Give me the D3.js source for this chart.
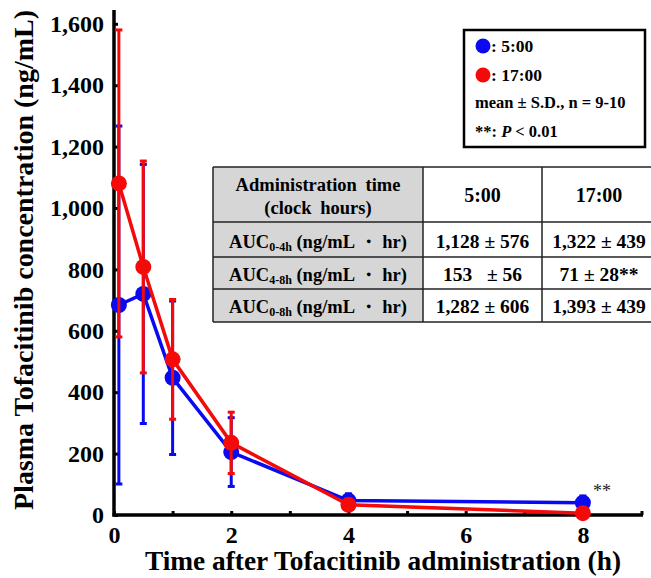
<!DOCTYPE html>
<html>
<head>
<meta charset="utf-8">
<script src="https://cdn.jsdelivr.net/npm/d3@7"></script>
<style>
  body { margin: 0; background: #fff; }
  svg { display: block; font-family: "Liberation Serif", "Times New Roman", serif; font-weight: bold; }
</style>
</head>
<body>
<svg width="651" height="578"></svg>
<script>
// sampling times (h)
var times = [0.083, 0.5, 1, 2, 4, 8];
// 5:00 dosing
var mean5 = [684, 720, 447, 205, 47, 40];
var sd5   = [583, 422, 250, 112, 22, 22];
// 17:00 dosing
var mean17 = [1080, 808, 507, 235, 33, 6];
var sd17   = [500, 345, 195, 100, 10, 3];

var yTicks = [0, 200, 400, 600, 800, 1000, 1200, 1400, 1600];
var xTicks = [0, 1, 2, 3, 4, 5, 6, 7, 8, 9];

var tableHead = ["Administration time", "(clock hours)"];
var tableCols = ["5:00", "17:00"];
var aucSubs = ["0-4h", "4-8h", "0-8h"];
var auc5  = ["1,128 \u00b1 576", "153\u00a0\u00a0 \u00b1 56", "1,282 \u00b1 606"];
var auc17 = ["1,322 \u00b1 439", "71 \u00b1 28**", "1,393 \u00b1 439"];

var svg = d3.select("svg");
var serif = '"Liberation Serif", "Times New Roman", serif';

var x = d3.scaleLinear().domain([0, 9]).range([114, 641.5]);
var y = d3.scaleLinear().domain([0, 1645]).range([515, 10]);

var blue = "#0a0af0", red = "#f50a0a";

// axes
var gx = svg.append("g")
    .attr("transform", "translate(0,515)")
    .call(d3.axisBottom(x).tickValues(xTicks).tickSize(-4).tickSizeOuter(0).tickPadding(11)
        .tickFormat(function(d) { return d % 2 == 0 && d < 9 ? d : ""; }));
gx.attr("font-family", serif).attr("font-size", 24).attr("font-weight", "bold");
gx.select(".domain").attr("stroke-width", 3.5).attr("d", "M112.5,0H643");
gx.selectAll(".tick line").attr("stroke-width", 3);
gx.selectAll("text").attr("fill", "#000");

var gy = svg.append("g")
    .attr("transform", "translate(114,0)")
    .call(d3.axisLeft(y).tickValues(yTicks).tickSize(-4).tickSizeOuter(0).tickPadding(10)
        .tickFormat(d3.format(",")));
gy.attr("font-family", serif).attr("font-size", 24).attr("font-weight", "bold");
gy.select(".domain").attr("stroke-width", 3.5).attr("d", "M0,516.5V10");
gy.selectAll(".tick line").attr("stroke-width", 3);
gy.selectAll("text").attr("fill", "#000");

svg.append("text")
    .attr("transform", "translate(33,260) rotate(-90)")
    .attr("text-anchor", "middle")
    .attr("font-size", 27)
    .attr("textLength", 500)
    .attr("lengthAdjust", "spacingAndGlyphs")
    .text("Plasma Tofacitinib concentration (ng/mL)");

svg.append("text")
    .attr("x", 383)
    .attr("y", 570)
    .attr("text-anchor", "middle")
    .attr("font-size", 27)
    .attr("textLength", 476)
    .attr("lengthAdjust", "spacingAndGlyphs")
    .text("Time after Tofacitinib administration (h)");

// series
function drawSeries(means, sds, color) {
    var data = times.map(function(t, i) { return {t: t, m: means[i], s: sds[i]}; });
    var g = svg.append("g");
    g.selectAll("line.bar").data(data).enter().append("line")
        .attr("x1", function(d) { return x(d.t); })
        .attr("x2", function(d) { return x(d.t); })
        .attr("y1", function(d) { return y(d.m - d.s); })
        .attr("y2", function(d) { return y(d.m + d.s); })
        .attr("stroke", color).attr("stroke-width", 3);
    [-1, 1].forEach(function(k) {
        g.selectAll(null).data(data).enter().append("line")
            .attr("x1", function(d) { return x(d.t) - 3.5; })
            .attr("x2", function(d) { return x(d.t) + 3.5; })
            .attr("y1", function(d) { return y(d.m + k * d.s); })
            .attr("y2", function(d) { return y(d.m + k * d.s); })
            .attr("stroke", color).attr("stroke-width", 3);
    });
    g.append("path").datum(data)
        .attr("fill", "none").attr("stroke", color).attr("stroke-width", 3.5)
        .attr("d", d3.line().x(function(d) { return x(d.t); }).y(function(d) { return y(d.m); }));
    g.selectAll("circle").data(data).enter().append("circle")
        .attr("cx", function(d) { return x(d.t); })
        .attr("cy", function(d) { return y(d.m); })
        .attr("r", 8)
        .attr("fill", color);
}
drawSeries(mean5, sd5, blue);
drawSeries(mean17, sd17, red);

svg.append("text")
    .attr("x", x(8) + 10).attr("y", 497)
    .attr("font-size", 18).attr("font-weight", "normal").attr("fill", "#222")
    .text("**");

// legend
var lg = svg.append("g");
lg.append("rect").attr("x", 464).attr("y", 30).attr("width", 181).attr("height", 117)
    .attr("fill", "#fff").attr("stroke", "#000").attr("stroke-width", 2.5);
[["5:00", blue], ["17:00", red]].forEach(function(d, i) {
    lg.append("circle").attr("cx", 483).attr("cy", 46 + i * 29).attr("r", 7.5).attr("fill", d[1]);
    lg.append("text").attr("x", 491).attr("y", 52 + i * 29).attr("font-size", 17.5).text(": " + d[0]);
});
lg.append("text").attr("x", 475).attr("y", 108).attr("font-size", 16.5)
    .text("mean \u00b1 S.D., n = 9-10");
var pl = lg.append("text").attr("x", 475).attr("y", 137).attr("font-size", 16.5);
pl.append("tspan").text("**: ");
pl.append("tspan").attr("font-style", "italic").text("P");
pl.append("tspan").text(" < 0.01");

// AUC table
var colX = [213, 423, 542, 660];
var rowY = [167, 222, 257, 289, 322];
var tg = svg.append("g");
tg.append("rect").attr("x", colX[0]).attr("y", rowY[0])
    .attr("width", colX[1] - colX[0]).attr("height", rowY[4] - rowY[0]).attr("fill", "#d6d6d6");
tg.append("rect").attr("x", colX[1]).attr("y", rowY[0])
    .attr("width", colX[3] - colX[1]).attr("height", rowY[4] - rowY[0]).attr("fill", "#fff");
rowY.forEach(function(ry) {
    tg.append("line").attr("x1", colX[0]).attr("x2", colX[3]).attr("y1", ry).attr("y2", ry)
        .attr("stroke", "#222").attr("stroke-width", 1.5);
});
colX.forEach(function(cx) {
    tg.append("line").attr("x1", cx).attr("x2", cx).attr("y1", rowY[0]).attr("y2", rowY[4])
        .attr("stroke", "#222").attr("stroke-width", 1.5);
});
var cen = [(colX[0] + colX[1]) / 2, (colX[1] + colX[2]) / 2, (colX[2] + 656) / 2];
tableHead.forEach(function(t, i) {
    tg.append("text").attr("x", cen[0]).attr("y", 191 + i * 23).attr("text-anchor", "middle")
        .attr("font-size", 18.5).attr("word-spacing", 4).text(t);
});
tableCols.forEach(function(t, i) {
    tg.append("text").attr("x", cen[i + 1]).attr("y", 202).attr("text-anchor", "middle")
        .attr("font-size", 20).text(t);
});
aucSubs.forEach(function(s, i) {
    var by = [248, 281, 313][i];
    var t = tg.append("text").attr("x", cen[0]).attr("y", by).attr("text-anchor", "middle")
        .attr("font-size", 18.5);
    t.append("tspan").text("AUC");
    t.append("tspan").attr("font-size", 12).attr("dy", 3).text(s);
    t.append("tspan").attr("dy", -3).text(" (ng/mL \u30fb hr)");
    tg.append("text").attr("x", cen[1]).attr("y", by).attr("text-anchor", "middle")
        .attr("font-size", 19.5).text(auc5[i]);
    tg.append("text").attr("x", cen[2]).attr("y", by).attr("text-anchor", "middle")
        .attr("font-size", 19.5).text(auc17[i]);
});
</script>
</body>
</html>
